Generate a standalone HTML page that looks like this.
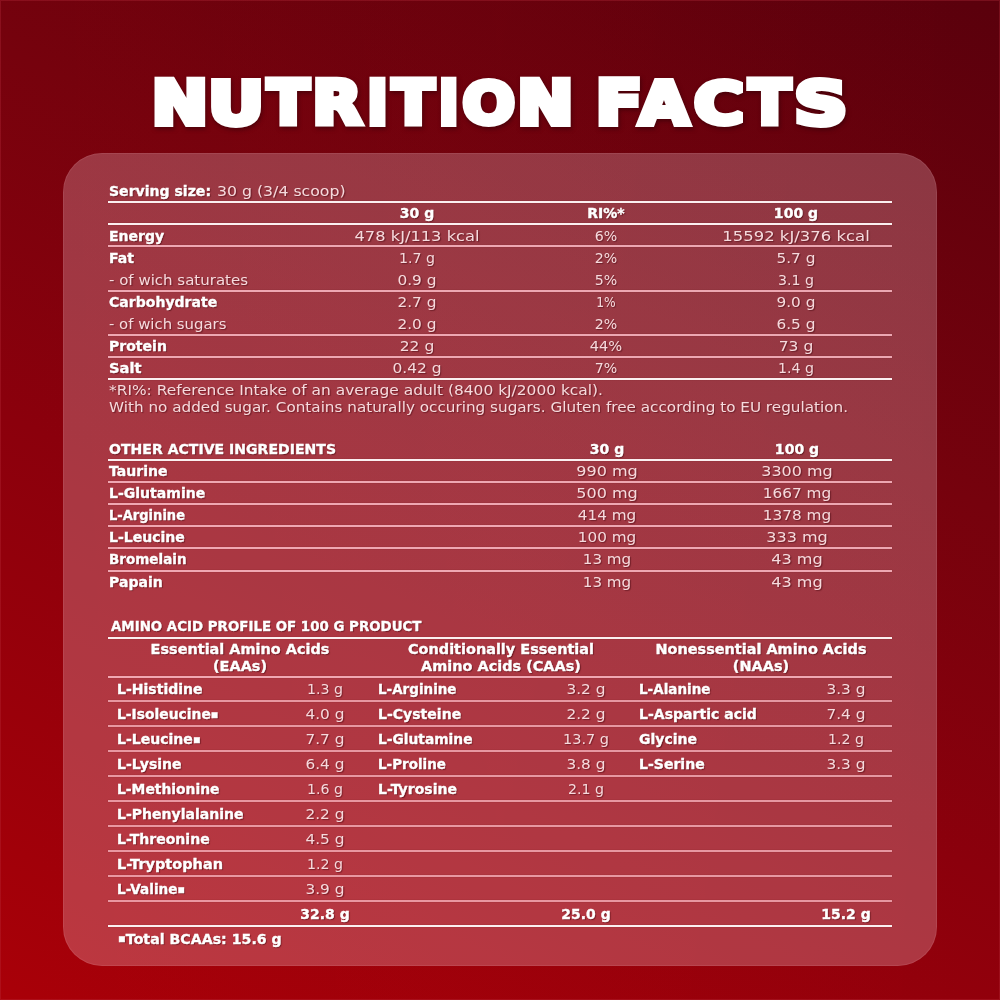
<!DOCTYPE html>
<html><head><meta charset="utf-8"><title>Nutrition Facts</title>
<style>
html,body{margin:0;padding:0;}
body{width:1000px;height:1000px;overflow:hidden;position:relative;
 background:linear-gradient(90deg,rgba(255,20,30,0) 0%,rgba(255,20,30,.025) 50%,rgba(255,20,30,0) 100%),linear-gradient(205deg,#5a000c 0%,#76020d 35%,#8b000c 60%,#a90008 100%);
 box-shadow:inset 0 0 0 1px rgba(190,50,65,.3);
 font-family:"DejaVu Sans","Liberation Sans",sans-serif;}
.tex{position:absolute;left:0;top:0;width:1000px;height:1000px;}
.title{position:absolute;left:0;top:0;width:1000px;height:150px;filter:drop-shadow(1px 2px 2px rgba(40,0,5,.55));}
.panel{position:absolute;left:63px;top:153px;width:874px;height:813px;border-radius:39px;
 background:rgba(255,216,226,.255);box-shadow:inset 0 0 0 1px rgba(255,200,210,.1);}
.b,.r{position:absolute;white-space:nowrap;transform-origin:0 0;}
.b{font-size:13.5px;line-height:13.5px;font-weight:bold;color:#fff;-webkit-text-stroke:0.35px #fff;text-shadow:1px 1px 1px rgba(60,0,10,.55);}
.r{font-size:13.5px;line-height:13.5px;font-weight:normal;color:#f6dadd;text-shadow:1px 1px 1px rgba(60,0,10,.45);}
.c{width:400px;text-align:center;transform-origin:50% 0 !important;}
.ln,.lt{position:absolute;box-shadow:0 0 1px rgba(70,0,12,.5);}
.ln{height:2px;background:rgba(255,192,202,.82);}
.lt{height:2px;background:#fbeff0;}
.la{background:rgba(255,192,202,.7);}
.sq{font-size:11px;position:relative;top:-1.5px;}
</style></head><body>
<svg class="title" width="1000" height="150" viewBox="0 0 1000 150" aria-label="NUTRITION FACTS"><g font-family="DejaVu Sans, Liberation Sans, sans-serif" font-weight="bold" font-size="100" fill="#fff" stroke="#fff" stroke-width="10" stroke-linejoin="miter" stroke-miterlimit="2"><text transform="matrix(0.6711 0 0 0.5988 151.82 124.31)">N</text><text transform="matrix(0.6849 0 0 0.5847 208.26 123.79)">U</text><text transform="matrix(0.6090 0 0 0.5988 267.54 124.31)">T</text><text transform="matrix(0.6392 0 0 0.5988 312.44 124.31)">R</text><text transform="matrix(0.5517 0 0 0.5988 367.29 124.31)">I</text><text transform="matrix(0.6090 0 0 0.5988 392.54 124.31)">T</text><text transform="matrix(0.5345 0 0 0.5988 438.86 124.31)">I</text><text transform="matrix(0.6176 0 0 0.5779 462.50 123.83)">O</text><text transform="matrix(0.6711 0 0 0.5988 517.32 124.31)">N</text><text transform="matrix(0.6803 0 0 0.5988 595.78 124.31)">F</text><text transform="matrix(0.6389 0 0 0.5917 639.33 123.75)">A</text><text transform="matrix(0.6806 0 0 0.5779 694.00 123.83)">C</text><text transform="matrix(0.6077 0 0 0.5988 749.04 124.31)">T</text><text transform="matrix(0.7368 0 0 0.5779 794.13 123.83)">S</text></g></svg>
<div class="panel"></div>
<div class="b" style="left:109px;top:184.88px;transform:scaleX(1.0407)">Serving size:</div>
<div class="r" style="left:217px;top:184.88px;transform:scaleX(1.1646)">30 g (3/4 scoop)</div>
<div class="lt" style="left:108px;top:200.9px;width:784px"></div>
<div class="b c" style="left:217px;top:207.08px;transform:scaleX(1.0400)">30 g</div>
<div class="b c" style="left:406px;top:207.08px;transform:scaleX(1.0400)">RI%*</div>
<div class="b c" style="left:596px;top:207.08px;transform:scaleX(1.0400)">100 g</div>
<div class="lt" style="left:108px;top:223px;width:784px"></div>
<div class="b" style="left:109px;top:229.98px;transform:scaleX(1.0400)">Energy</div>
<div class="r c" style="left:217px;top:229.98px;transform:scaleX(1.2051)">478 kJ/113 kcal</div>
<div class="r c" style="left:406px;top:229.98px;transform:scaleX(1.0506)">6%</div>
<div class="r c" style="left:596px;top:229.98px;transform:scaleX(1.2199)">15592 kJ/376 kcal</div>
<div class="b" style="left:109px;top:252.03px;transform:scaleX(1.0400)">Fat</div>
<div class="r c" style="left:217px;top:252.03px;transform:scaleX(1.0486)">1.7 g</div>
<div class="r c" style="left:406px;top:252.03px;transform:scaleX(1.0506)">2%</div>
<div class="r c" style="left:596px;top:252.03px;transform:scaleX(1.1360)">5.7 g</div>
<div class="r" style="left:109px;top:274.08px;transform:scaleX(1.1108)">- of wich saturates</div>
<div class="r c" style="left:217px;top:274.08px;transform:scaleX(1.1360)">0.9 g</div>
<div class="r c" style="left:406px;top:274.08px;transform:scaleX(1.0506)">5%</div>
<div class="r c" style="left:596px;top:274.08px;transform:scaleX(1.0486)">3.1 g</div>
<div class="b" style="left:109px;top:296.13px;transform:scaleX(1.0400)">Carbohydrate</div>
<div class="r c" style="left:217px;top:296.13px;transform:scaleX(1.1360)">2.7 g</div>
<div class="r c" style="left:406px;top:296.13px;transform:scaleX(0.9105)">1%</div>
<div class="r c" style="left:596px;top:296.13px;transform:scaleX(1.1360)">9.0 g</div>
<div class="r" style="left:109px;top:318.18px;transform:scaleX(1.1028)">- of wich sugars</div>
<div class="r c" style="left:217px;top:318.18px;transform:scaleX(1.1360)">2.0 g</div>
<div class="r c" style="left:406px;top:318.18px;transform:scaleX(1.0506)">2%</div>
<div class="r c" style="left:596px;top:318.18px;transform:scaleX(1.1360)">6.5 g</div>
<div class="b" style="left:109px;top:340.23px;transform:scaleX(1.0400)">Protein</div>
<div class="r c" style="left:217px;top:340.23px;transform:scaleX(1.1485)">22 g</div>
<div class="r c" style="left:406px;top:340.23px;transform:scaleX(1.0831)">44%</div>
<div class="r c" style="left:596px;top:340.23px;transform:scaleX(1.1485)">73 g</div>
<div class="b" style="left:109px;top:362.28px;transform:scaleX(1.0865)">Salt</div>
<div class="r c" style="left:217px;top:362.28px;transform:scaleX(1.1417)">0.42 g</div>
<div class="r c" style="left:406px;top:362.28px;transform:scaleX(1.0506)">7%</div>
<div class="r c" style="left:596px;top:362.28px;transform:scaleX(1.0486)">1.4 g</div>
<div class="ln" style="left:108px;top:245px;width:784px"></div>
<div class="ln" style="left:108px;top:290px;width:784px"></div>
<div class="ln" style="left:108px;top:334px;width:784px"></div>
<div class="ln" style="left:108px;top:356px;width:784px"></div>
<div class="lt" style="left:108px;top:378.3px;width:784px"></div>
<div class="r" style="left:109px;top:384.08px;transform:scaleX(1.1421)">*RI%: Reference Intake of an average adult (8400 kJ/2000 kcal).</div>
<div class="r" style="left:109px;top:401.28px;transform:scaleX(1.1272)">With no added sugar. Contains naturally occuring sugars. Gluten free according to EU regulation.</div>
<div class="b" style="left:109px;top:442.78px;transform:scaleX(1.0415)">OTHER ACTIVE INGREDIENTS</div>
<div class="b c" style="left:406.5px;top:442.78px;transform:scaleX(1.0400)">30 g</div>
<div class="b c" style="left:596.5px;top:442.78px;transform:scaleX(1.0400)">100 g</div>
<div class="lt" style="left:108px;top:459px;width:784px"></div>
<div class="ln" style="left:108px;top:481px;width:784px"></div>
<div class="ln" style="left:108px;top:503px;width:784px"></div>
<div class="ln" style="left:108px;top:525px;width:784px"></div>
<div class="ln" style="left:108px;top:547px;width:784px"></div>
<div class="ln" style="left:108px;top:569.5px;width:784px"></div>
<div class="b" style="left:109px;top:464.88px;transform:scaleX(1.0400)">Taurine</div>
<div class="r c" style="left:406.5px;top:464.88px;transform:scaleX(1.1877)">990 mg</div>
<div class="r c" style="left:596.5px;top:464.88px;transform:scaleX(1.1844)">3300 mg</div>
<div class="b" style="left:109px;top:487.03px;transform:scaleX(1.0400)">L-Glutamine</div>
<div class="r c" style="left:406.5px;top:487.03px;transform:scaleX(1.1877)">500 mg</div>
<div class="r c" style="left:596.5px;top:487.03px;transform:scaleX(1.1347)">1667 mg</div>
<div class="b" style="left:109px;top:509.18px;transform:scaleX(0.9668)">L-Arginine</div>
<div class="r c" style="left:406.5px;top:509.18px;transform:scaleX(1.1298)">414 mg</div>
<div class="r c" style="left:596.5px;top:509.18px;transform:scaleX(1.1347)">1378 mg</div>
<div class="b" style="left:109px;top:531.33px;transform:scaleX(1.0400)">L-Leucine</div>
<div class="r c" style="left:406.5px;top:531.33px;transform:scaleX(1.1298)">100 mg</div>
<div class="r c" style="left:596.5px;top:531.33px;transform:scaleX(1.1877)">333 mg</div>
<div class="b" style="left:109px;top:553.48px;transform:scaleX(1.0010)">Bromelain</div>
<div class="r c" style="left:406.5px;top:553.48px;transform:scaleX(1.1230)">13 mg</div>
<div class="r c" style="left:596.5px;top:553.48px;transform:scaleX(1.1924)">43 mg</div>
<div class="b" style="left:109px;top:575.63px;transform:scaleX(1.0400)">Papain</div>
<div class="r c" style="left:406.5px;top:575.63px;transform:scaleX(1.1230)">13 mg</div>
<div class="r c" style="left:596.5px;top:575.63px;transform:scaleX(1.1924)">43 mg</div>
<div class="b" style="left:110.5px;top:619.58px;transform:scaleX(0.9910)">AMINO ACID PROFILE OF 100 G PRODUCT</div>
<div class="lt" style="left:108px;top:636.5px;width:784px"></div>
<div class="b c" style="left:39.5px;top:642.98px;transform:scaleX(1.0700)">Essential Amino Acids</div>
<div class="b c" style="left:39.5px;top:660.08px;transform:scaleX(1.0700)">(EAAs)</div>
<div class="b c" style="left:301px;top:642.98px;transform:scaleX(1.0700)">Conditionally Essential</div>
<div class="b c" style="left:301px;top:660.08px;transform:scaleX(1.0700)">Amino Acids (CAAs)</div>
<div class="b c" style="left:561px;top:642.98px;transform:scaleX(1.0700)">Nonessential Amino Acids</div>
<div class="b c" style="left:561px;top:660.08px;transform:scaleX(1.0700)">(NAAs)</div>
<div class="ln" style="left:108px;top:675.6px;width:784px"></div>
<div class="b" style="left:116.5px;top:683.18px;transform:scaleX(1.0400)">L-Histidine</div>
<div class="r c" style="left:125px;top:683.18px;transform:scaleX(1.0486)">1.3 g</div>
<div class="b" style="left:377.5px;top:683.18px;transform:scaleX(0.9986)">L-Arginine</div>
<div class="r c" style="left:386px;top:683.18px;transform:scaleX(1.1360)">3.2 g</div>
<div class="b" style="left:638.5px;top:683.18px;transform:scaleX(1.0015)">L-Alanine</div>
<div class="r c" style="left:646px;top:683.18px;transform:scaleX(1.1360)">3.3 g</div>
<div class="ln la" style="left:108px;top:700.2px;width:784px"></div>
<div class="b" style="left:116.5px;top:708.18px;transform:scaleX(1.0275)">L-Isoleucine<span class="sq">▪</span></div>
<div class="r c" style="left:125px;top:708.18px;transform:scaleX(1.1360)">4.0 g</div>
<div class="b" style="left:377.5px;top:708.18px;transform:scaleX(1.0400)">L-Cysteine</div>
<div class="r c" style="left:386px;top:708.18px;transform:scaleX(1.1360)">2.2 g</div>
<div class="b" style="left:638.5px;top:708.18px;transform:scaleX(1.0400)">L-Aspartic acid</div>
<div class="r c" style="left:646px;top:708.18px;transform:scaleX(1.1360)">7.4 g</div>
<div class="ln la" style="left:108px;top:725.23px;width:784px"></div>
<div class="b" style="left:116.5px;top:733.18px;transform:scaleX(1.0400)">L-Leucine<span class="sq">▪</span></div>
<div class="r c" style="left:125px;top:733.18px;transform:scaleX(1.1360)">7.7 g</div>
<div class="b" style="left:377.5px;top:733.18px;transform:scaleX(1.0211)">L-Glutamine</div>
<div class="r c" style="left:386px;top:733.18px;transform:scaleX(1.0718)">13.7 g</div>
<div class="b" style="left:638.5px;top:733.18px;transform:scaleX(1.0400)">Glycine</div>
<div class="r c" style="left:646px;top:733.18px;transform:scaleX(1.0486)">1.2 g</div>
<div class="ln la" style="left:108px;top:750.26px;width:784px"></div>
<div class="b" style="left:116.5px;top:758.18px;transform:scaleX(1.0400)">L-Lysine</div>
<div class="r c" style="left:125px;top:758.18px;transform:scaleX(1.1360)">6.4 g</div>
<div class="b" style="left:377.5px;top:758.18px;transform:scaleX(0.9992)">L-Proline</div>
<div class="r c" style="left:386px;top:758.18px;transform:scaleX(1.1360)">3.8 g</div>
<div class="b" style="left:638.5px;top:758.18px;transform:scaleX(1.0400)">L-Serine</div>
<div class="r c" style="left:646px;top:758.18px;transform:scaleX(1.1360)">3.3 g</div>
<div class="ln la" style="left:108px;top:775.2900000000001px;width:784px"></div>
<div class="b" style="left:116.5px;top:783.18px;transform:scaleX(1.0274)">L-Methionine</div>
<div class="r c" style="left:125px;top:783.18px;transform:scaleX(1.0486)">1.6 g</div>
<div class="b" style="left:377.5px;top:783.18px;transform:scaleX(1.0400)">L-Tyrosine</div>
<div class="r c" style="left:386px;top:783.18px;transform:scaleX(1.0486)">2.1 g</div>
<div class="ln la" style="left:108px;top:800.32px;width:784px"></div>
<div class="b" style="left:116.5px;top:808.18px;transform:scaleX(1.0400)">L-Phenylalanine</div>
<div class="r c" style="left:125px;top:808.18px;transform:scaleX(1.1360)">2.2 g</div>
<div class="ln la" style="left:108px;top:825.35px;width:784px"></div>
<div class="b" style="left:116.5px;top:833.18px;transform:scaleX(1.0400)">L-Threonine</div>
<div class="r c" style="left:125px;top:833.18px;transform:scaleX(1.1360)">4.5 g</div>
<div class="ln la" style="left:108px;top:850.3800000000001px;width:784px"></div>
<div class="b" style="left:116.5px;top:858.18px;transform:scaleX(1.0730)">L-Tryptophan</div>
<div class="r c" style="left:125px;top:858.18px;transform:scaleX(1.0486)">1.2 g</div>
<div class="ln la" style="left:108px;top:875.4100000000001px;width:784px"></div>
<div class="b" style="left:116.5px;top:883.18px;transform:scaleX(1.0071)">L-Valine<span class="sq">▪</span></div>
<div class="r c" style="left:125px;top:883.18px;transform:scaleX(1.1360)">3.9 g</div>
<div class="ln la" style="left:108px;top:900.44px;width:784px"></div>
<div class="b c" style="left:125px;top:907.88px;transform:scaleX(1.0363)">32.8 g</div>
<div class="b c" style="left:386px;top:907.88px;transform:scaleX(1.0342)">25.0 g</div>
<div class="b c" style="left:645.5px;top:907.88px;transform:scaleX(1.0404)">15.2 g</div>
<div class="lt" style="left:108px;top:925.3px;width:784px"></div>
<div class="b" style="left:117.5px;top:932.78px;transform:scaleX(1.0498)"><span class="sq">▪</span>Total BCAAs: 15.6 g</div>
</body></html>
